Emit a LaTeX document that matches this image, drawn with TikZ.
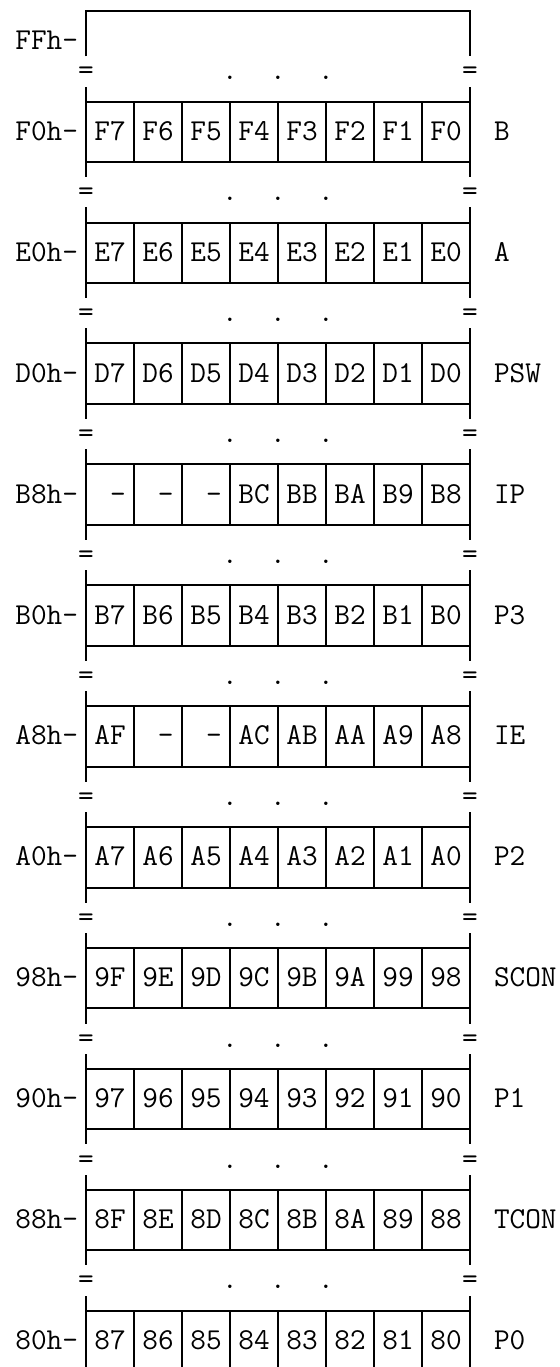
\documentclass[tikz,border=0pt]{standalone}
\usepackage{fontspec}
\usepackage{tikz}
\usetikzlibrary{positioning,calc}

\begin{document}
\begin{tikzpicture}[
        x=0.02cm, y=-0.02cm,
        txt/.style={font=\ttfamily\fontsize{17.3pt}{20pt}\selectfont, inner sep=0pt, outer sep=0pt, text height=0.34cm, text depth=0cm},
        addr/.style={txt, anchor=east},
        regname/.style={txt, anchor=west},
        cell/.style={txt, draw=black, line width=0.04cm, minimum width=0.96cm, minimum height=1.209cm},
        rail/.style={draw=black, line width=0.04cm}
    ]
    \useasboundingbox (0,0) rectangle (560,1367);
    \clip (0,0) rectangle (560,1367);

    % Top of the SFR space
    \node[txt, minimum width=7.68cm, minimum height=0.906cm] (ffbox) at (278,33.65) {};
    \node[addr] (aFF) at (78,41.2) {FFh-};
    \draw[rail] (ffbox.south west) |- (ffbox.north east) -- (ffbox.south east);

    % Bit addressable registers
    \foreach \adr/\rname/\bits [count=\k from 0] in {
        F0h/B/{F7,F6,F5,F4,F3,F2,F1,F0},
        E0h/A/{E7,E6,E5,E4,E3,E2,E1,E0},
        D0h/PSW/{D7,D6,D5,D4,D3,D2,D1,D0},
        B8h/IP/{{\hphantom{0}-},{\hphantom{0}-},{\hphantom{0}-},BC,BB,BA,B9,B8},
        B0h/P3/{B7,B6,B5,B4,B3,B2,B1,B0},
        A8h/IE/{AF,{\hphantom{0}-},{\hphantom{0}-},AC,AB,AA,A9,A8},
        A0h/P2/{A7,A6,A5,A4,A3,A2,A1,A0},
        98h/SCON/{9F,9E,9D,9C,9B,9A,99,98},
        90h/P1/{97,96,95,94,93,92,91,90},
        88h/TCON/{8F,8E,8D,8C,8B,8A,89,88},
        80h/P0/{87,86,85,84,83,82,81,80}} {
        \pgfmathsetmacro{\yt}{11+30.225*(4+4*\k)}
        \pgfmathsetmacro{\ye}{\yt-60.45}

        % gap marks
        \node[txt] (eqL\k) at (86,\ye) {=};
        \node[txt] (eqR\k) at (470,\ye) {=};
        \foreach \dx [count=\d] in {230,278,326}
            \node[txt] (dot\k-\d) at (\dx,\ye) {.};

        % register row
        \node[addr] (a\k) at (78,\yt) {\adr-};
        \foreach \b [count=\j from 0] in \bits
            \node[cell] (c\k-\j) at ({110+48*\j},\yt) {\b};
        \node[regname] (r\k) at (494,\yt) {\rname};

        % side rails
        \draw[rail] (c\k-0.north west) -- ++(0,-15.1);
        \draw[rail] (c\k-0.south west) -- ++(0,15.1);
        \draw[rail] (c\k-7.north east) -- ++(0,-15.1);
        \draw[rail] (c\k-7.south east) -- ++(0,15.1);
    }

\end{tikzpicture}
\end{document}
